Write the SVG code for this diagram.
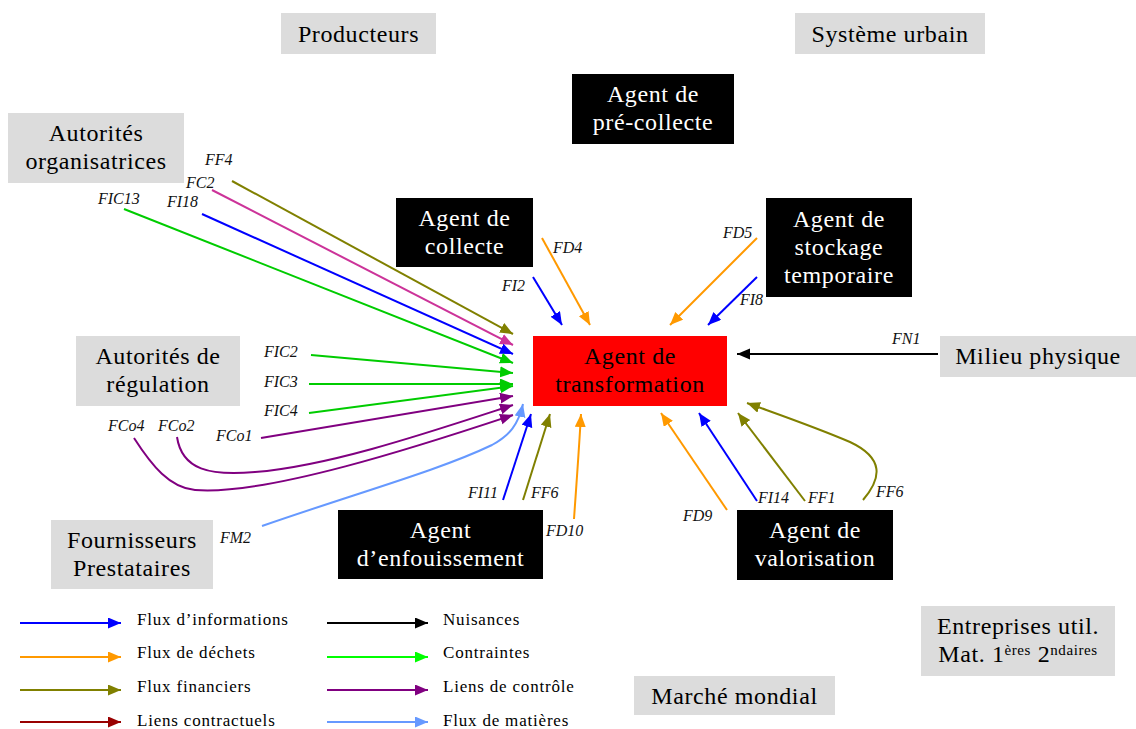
<svg xmlns="http://www.w3.org/2000/svg" width="1136" height="729" viewBox="0 0 1136 729">
<style>
.gray{fill:#dcdcdc}
.blk{fill:#000}
.red{fill:#ff0000}
.t{font-family:"Liberation Serif","Times New Roman",serif;font-size:24px;letter-spacing:0.6px;text-anchor:middle;fill:#000}
.w{fill:#fff}
.f{font-family:"Liberation Serif","Times New Roman",serif;font-size:16px;font-style:italic;fill:#111}
.lg{font-family:"Liberation Serif","Times New Roman",serif;font-size:17px;letter-spacing:0.8px;fill:#000}
.c{fill:none;stroke-width:2}
.bl{stroke:#0000ff}.or{stroke:#ff9900}.ol{stroke:#808000}.mg{stroke:#cc3399}.gr{stroke:#00cc00}.pu{stroke:#800080}.lb{stroke:#6699ff}.bk{stroke:#000}.dr{stroke:#990000}.lg2{stroke:#00ff00}
</style>
<defs>
<marker id="mbl" markerUnits="userSpaceOnUse" markerWidth="14" markerHeight="12" refX="13" refY="5.5" orient="auto"><path d="M0,0L13,5.5L0,11z" fill="#0000ff"/></marker>
<marker id="mor" markerUnits="userSpaceOnUse" markerWidth="14" markerHeight="12" refX="13" refY="5.5" orient="auto"><path d="M0,0L13,5.5L0,11z" fill="#ff9900"/></marker>
<marker id="mol" markerUnits="userSpaceOnUse" markerWidth="14" markerHeight="12" refX="13" refY="5.5" orient="auto"><path d="M0,0L13,5.5L0,11z" fill="#808000"/></marker>
<marker id="mmg" markerUnits="userSpaceOnUse" markerWidth="14" markerHeight="12" refX="13" refY="5.5" orient="auto"><path d="M0,0L13,5.5L0,11z" fill="#cc3399"/></marker>
<marker id="mgr" markerUnits="userSpaceOnUse" markerWidth="14" markerHeight="12" refX="13" refY="5.5" orient="auto"><path d="M0,0L13,5.5L0,11z" fill="#00cc00"/></marker>
<marker id="mpu" markerUnits="userSpaceOnUse" markerWidth="14" markerHeight="12" refX="13" refY="5.5" orient="auto"><path d="M0,0L13,5.5L0,11z" fill="#800080"/></marker>
<marker id="mlb" markerUnits="userSpaceOnUse" markerWidth="14" markerHeight="12" refX="13" refY="5.5" orient="auto"><path d="M0,0L13,5.5L0,11z" fill="#6699ff"/></marker>
<marker id="mbk" markerUnits="userSpaceOnUse" markerWidth="14" markerHeight="12" refX="13" refY="5.5" orient="auto"><path d="M0,0L13,5.5L0,11z" fill="#000"/></marker>
<marker id="mdr" markerUnits="userSpaceOnUse" markerWidth="14" markerHeight="12" refX="13" refY="5.5" orient="auto"><path d="M0,0L13,5.5L0,11z" fill="#990000"/></marker>
<marker id="mlg" markerUnits="userSpaceOnUse" markerWidth="14" markerHeight="12" refX="13" refY="5.5" orient="auto"><path d="M0,0L13,5.5L0,11z" fill="#00ff00"/></marker>
</defs>
<rect width="1136" height="729" fill="#fff"/>

<g id="producteurs"><rect class="gray" x="281" y="13" width="155" height="41"/><text class="t" x="358.5" y="42">Producteurs</text></g>
<g id="systeme-urbain"><rect class="gray" x="795" y="13" width="190" height="41"/><text class="t" x="890" y="42">Système urbain</text></g>
<g id="pre-collecte"><rect class="blk" x="572" y="74" width="162" height="70"/><text class="t w" x="653" y="102">Agent de</text><text class="t w" x="653" y="130">pré-collecte</text></g>
<g id="autorites-org"><rect class="gray" x="8" y="113" width="176" height="70"/><text class="t" x="96" y="141">Autorités</text><text class="t" x="96" y="169">organisatrices</text></g>
<g id="collecte"><rect class="blk" x="396" y="198" width="137" height="69"/><text class="t w" x="464.5" y="226">Agent de</text><text class="t w" x="464.5" y="254">collecte</text></g>
<g id="stockage"><rect class="blk" x="766" y="198" width="146" height="99"/><text class="t w" x="839" y="227">Agent de</text><text class="t w" x="839" y="255">stockage</text><text class="t w" x="839" y="283">temporaire</text></g>
<g id="transformation"><rect class="red" x="533" y="336" width="194" height="70"/><text class="t" x="630" y="364">Agent de</text><text class="t" x="630" y="392">transformation</text></g>
<g id="milieu-physique"><rect class="gray" x="940" y="336" width="196" height="41"/><text class="t" x="1038" y="364">Milieu physique</text></g>
<g id="autorites-reg"><rect class="gray" x="76" y="336" width="164" height="70"/><text class="t" x="158" y="364">Autorités de</text><text class="t" x="158" y="392">régulation</text></g>
<g id="fournisseurs"><rect class="gray" x="51" y="520" width="162" height="69"/><text class="t" x="132" y="548">Fournisseurs</text><text class="t" x="132" y="576">Prestataires</text></g>
<g id="enfouissement"><rect class="blk" x="338" y="510" width="205" height="69"/><text class="t w" x="440.5" y="538">Agent</text><text class="t w" x="440.5" y="566">d’enfouissement</text></g>
<g id="valorisation"><rect class="blk" x="737" y="510" width="156" height="70"/><text class="t w" x="815" y="538">Agent de</text><text class="t w" x="815" y="566">valorisation</text></g>
<g id="entreprises"><rect class="gray" x="921" y="606" width="194" height="70"/><text class="t" x="1018" y="634">Entreprises util.</text><text class="t" x="1018" y="662">Mat. 1<tspan font-size="15" dy="-7">ères</tspan><tspan dy="7"> </tspan>2<tspan font-size="15" dy="-7">ndaires</tspan></text></g>
<g id="marche-mondial"><rect class="gray" x="634" y="676" width="201" height="39"/><text class="t" x="734.5" y="704">Marché mondial</text></g>

<g id="connectors">
<path class="c ol" d="M232,181L513,334" marker-end="url(#mol)"/>
<path class="c mg" d="M212,190L513,345" marker-end="url(#mmg)"/>
<path class="c bl" d="M202,214L513,354" marker-end="url(#mbl)"/>
<path class="c gr" d="M124,209L513,363" marker-end="url(#mgr)"/>
<path class="c gr" d="M311,355L513,373" marker-end="url(#mgr)"/>
<path class="c gr" d="M309,384L513,384" marker-end="url(#mgr)"/>
<path class="c gr" d="M309,413L513,386" marker-end="url(#mgr)"/>
<path class="c pu" d="M261,438L513,396" marker-end="url(#mpu)"/>
<path class="c pu" d="M177,437C182,470 210,476 255,472C330,466 430,432 513,405" marker-end="url(#mpu)"/>
<path class="c pu" d="M134,438C152,466 170,488 195,490C265,496 420,446 513,415" marker-end="url(#mpu)"/>
<path class="c lb" d="M262,526C360,492 440,470 492,445C510,435 518,425 523,404" marker-end="url(#mlb)"/>
<path class="c bl" d="M503,500L531,414" marker-end="url(#mbl)"/>
<path class="c ol" d="M523,500L550,414" marker-end="url(#mol)"/>
<path class="c or" d="M574,519C576,490 579,450 581,414" marker-end="url(#mor)"/>
<path class="c bl" d="M533,277L562,325" marker-end="url(#mbl)"/>
<path class="c or" d="M542,238L590,325" marker-end="url(#mor)"/>
<path class="c or" d="M757,238L670,325" marker-end="url(#mor)"/>
<path class="c bl" d="M757,277L708,325" marker-end="url(#mbl)"/>
<path class="c bk" d="M938,354L737,354" marker-end="url(#mbk)"/>
<path class="c or" d="M727,510L661,413" marker-end="url(#mor)"/>
<path class="c bl" d="M757,501L699,413" marker-end="url(#mbl)"/>
<path class="c ol" d="M805,501L738,413" marker-end="url(#mol)"/>
<path class="c ol" d="M863,500C882,478 884,458 850,442C815,427 780,415 747,403" marker-end="url(#mol)"/>
</g>

<g id="flow-labels">
<text class="f" x="205" y="165">FF4</text>
<text class="f" x="186" y="188">FC2</text>
<text class="f" x="167" y="207">FI18</text>
<text class="f" x="98" y="204">FIC13</text>
<text class="f" x="264" y="357">FIC2</text>
<text class="f" x="264" y="387">FIC3</text>
<text class="f" x="264" y="416">FIC4</text>
<text class="f" x="108" y="431">FCo4</text>
<text class="f" x="158" y="431">FCo2</text>
<text class="f" x="216" y="441">FCo1</text>
<text class="f" x="220" y="543">FM2</text>
<text class="f" x="468" y="498">FI11</text>
<text class="f" x="531" y="498">FF6</text>
<text class="f" x="546" y="536">FD10</text>
<text class="f" x="502" y="291">FI2</text>
<text class="f" x="553" y="253">FD4</text>
<text class="f" x="723" y="238">FD5</text>
<text class="f" x="740" y="305">FI8</text>
<text class="f" x="892" y="344">FN1</text>
<text class="f" x="683" y="521">FD9</text>
<text class="f" x="758" y="503">FI14</text>
<text class="f" x="808" y="503">FF1</text>
<text class="f" x="876" y="497">FF6</text>
</g>

<g id="legend">
<path class="c bl" d="M20,623L121,623" marker-end="url(#mbl)"/><text class="lg" x="137" y="625">Flux d’informations</text>
<path class="c or" d="M20,657L121,657" marker-end="url(#mor)"/><text class="lg" x="137" y="658">Flux de déchets</text>
<path class="c ol" d="M20,690L121,690" marker-end="url(#mol)"/><text class="lg" x="137" y="692">Flux financiers</text>
<path class="c dr" d="M20,722L121,722" marker-end="url(#mdr)"/><text class="lg" x="137" y="726">Liens contractuels</text>
<path class="c bk" d="M327,623L428,623" marker-end="url(#mbk)"/><text class="lg" x="443" y="625">Nuisances</text>
<path class="c lg2" d="M327,657L428,657" marker-end="url(#mlg)"/><text class="lg" x="443" y="658">Contraintes</text>
<path class="c pu" d="M327,690L428,690" marker-end="url(#mpu)"/><text class="lg" x="443" y="692">Liens de contrôle</text>
<path class="c lb" d="M327,722L428,722" marker-end="url(#mlb)"/><text class="lg" x="443" y="726">Flux de matières</text>
</g>
</svg>
